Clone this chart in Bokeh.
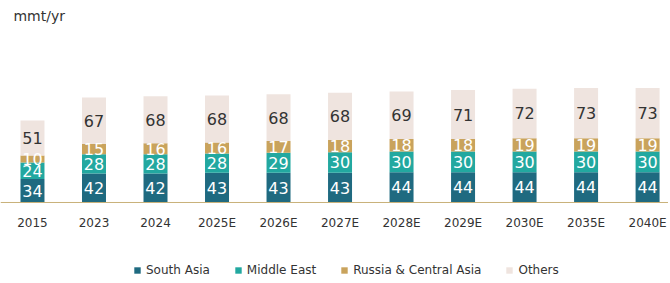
from bokeh.plotting import figure
from bokeh.models import ColumnDataSource, Range1d, Legend, LegendItem, Span
from bokeh.core.properties import value
from bokeh.embed import file_html
from bokeh.resources import INLINE

years = ["2015", "2023", "2024", "2025E", "2026E", "2027E", "2028E", "2029E", "2030E", "2035E", "2040E"]
south_asia = [34, 42, 42, 43, 43, 43, 44, 44, 44, 44, 44]
middle_east = [24, 28, 28, 28, 29, 30, 30, 30, 30, 30, 30]
russia_ca = [10, 15, 16, 16, 17, 18, 18, 18, 19, 19, 19]
others = [51, 67, 68, 68, 68, 68, 69, 71, 72, 73, 73]

series = ["South Asia", "Middle East", "Russia & Central Asia", "Others"]
colors = ["#1f6a80", "#22a8a0", "#c9a35c", "#efe4df"]
label_colors = ["#ffffff", "#ffffff", "#ffffff", "#333333"]

xs = list(range(len(years)))
data = dict(x=xs, sa=south_asia, me=middle_east, ru=russia_ca, ot=others)
source = ColumnDataSource(data)

FONT = "DejaVu Sans"

p = figure(width=668, height=281, output_backend="svg", toolbar_location=None,
           x_range=Range1d(-0.52, 10.34), y_range=Range1d(-114.5, 292.75),
           x_axis_location=None, y_axis_location=None,
           min_border_left=0, min_border_right=0, min_border_top=0, min_border_bottom=0)
p.outline_line_color = None
p.xgrid.visible = False
p.ygrid.visible = False

renderers = p.vbar_stack(["sa", "me", "ru", "ot"], x="x", width=0.39, color=colors,
                         line_color=None, source=source)

# category baseline (x axis line)
p.add_layout(Span(location=0, dimension="width", line_color="#c9b27a", line_width=1))

# category tick labels
p.text(x=xs, y=[-29] * len(xs), text=years, text_align="center", text_baseline="middle",
       text_font=value(FONT), text_font_size="12px", text_color="#333333")

# segment labels
cols = [south_asia, middle_east, russia_ca, others]
base = [0] * len(years)
for vals, tc in zip(cols, label_colors):
    mids = [b + v / 2 for b, v in zip(base, vals)]
    p.text(x=xs, y=mids, text=[str(v) for v in vals], text_align="center",
           text_baseline="middle", text_font=value(FONT), text_font_size="16px",
           text_color=tc)
    base = [b + v for b, v in zip(base, vals)]

# unit label
p.text(x=[-0.31], y=[271], text=["mmt/yr"], text_align="left", text_baseline="middle",
       text_font=value(FONT), text_font_size="14px", text_color="#333333")

legend = Legend(items=[LegendItem(label=s, renderers=[r]) for s, r in zip(series, renderers)],
                orientation="horizontal", location=(133, 4))
legend.border_line_color = None
legend.background_fill_alpha = 0
legend.glyph_width = 8
legend.glyph_height = 8
legend.label_standoff = 5
legend.spacing = 24
legend.padding = 0
legend.margin = 0
legend.label_height = 12
legend.label_text_font = FONT
legend.label_text_font_size = "12px"
legend.label_text_color = "#333333"
p.add_layout(legend)

open("out.html", "w").write(file_html(p, INLINE))
